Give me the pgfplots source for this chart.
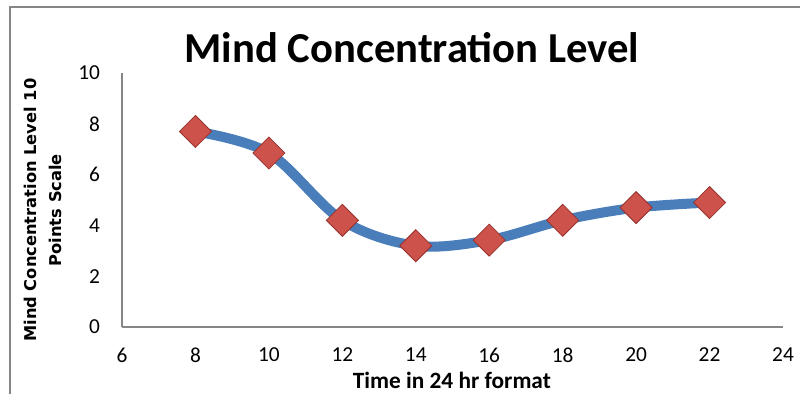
\documentclass[border=0pt]{standalone}
\usepackage{pgfplots}
\pgfplotsset{compat=1.18}
\usepackage{fontspec}
\setmainfont{Carlito}
\newfontfamily\ylabfont{DejaVu Sans}
\definecolor{linebl}{RGB}{74,126,187}
\definecolor{mkfill}{RGB}{205,82,76}
\definecolor{mkdraw}{RGB}{150,50,45}
\definecolor{axgray}{RGB}{134,134,134}
\begin{document}
\begin{tikzpicture}
\useasboundingbox (0,0) rectangle (600pt,295.5pt);
\draw[axgray, line width=0.8pt] (7.5pt,0) -- (7.5pt,290.25pt) -- (600pt,290.25pt);
\node[font=\fontsize{32}{38}\selectfont\bfseries] at (309pt,259.5pt) {Mind Concentration Level};
\begin{axis}[
  at={(91.5pt,50.25pt)}, anchor=south west,
  scale only axis, width=495.75pt, height=190.5pt,
  xmin=6, xmax=24, ymin=0, ymax=10,
  xtick={6,8,...,24}, ytick={0,2,...,10},
  axis x line*=bottom, axis y line*=left,
  axis line style={axgray, line width=0.8pt, -},
  major tick length=0pt,
  tick label style={font=\fontsize{16}{18}\selectfont},
  /pgf/number format/assume math mode=true,
  yticklabel style={xshift=-13pt},
  xticklabel style={yshift=-12pt},
  xlabel={Time in 24 hr format},
  ylabel={Mind Concentration Level 10\\[4pt]Points Scale},
  xlabel style={font=\fontsize{17.5}{20}\selectfont\bfseries, at={(axis description cs:0.499,-0.209)}, anchor=center},
  ylabel style={font=\ylabfont\fontsize{12.2}{15}\selectfont\bfseries, at={(axis description cs:-0.1195,0.46)}, anchor=center, align=center},
  clip=false,
]
\addplot[linebl, line width=7.5pt, smooth, tension=0.55,
  mark=square*, mark size=8.5pt,
  mark options={rotate=45, fill=mkfill, draw=mkdraw, line width=0.6pt}]
  coordinates {(8,7.7) (10,6.85) (12,4.2) (14,3.2) (16,3.42) (18,4.2) (20,4.7) (22,4.9)};
\end{axis}
\end{tikzpicture}
\end{document}
